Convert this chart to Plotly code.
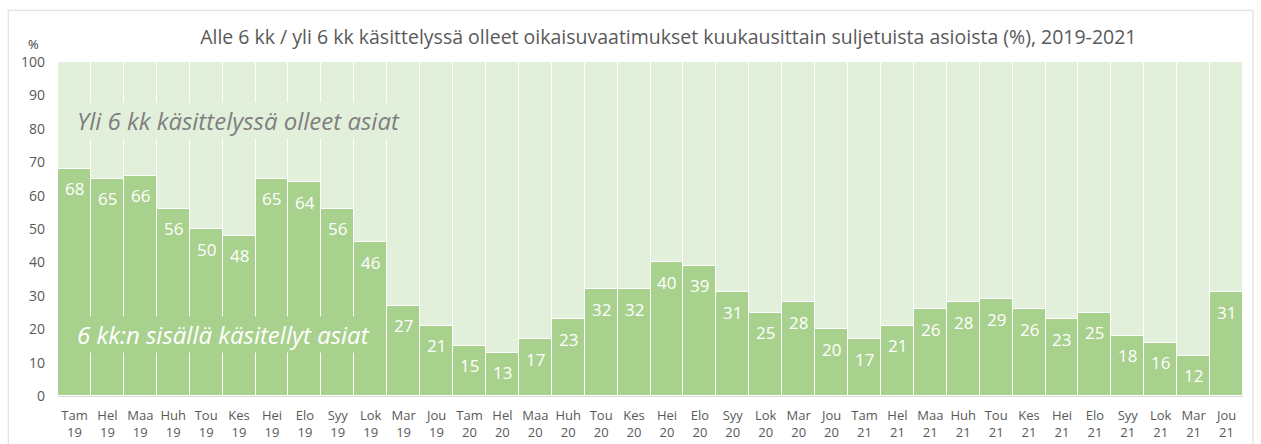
import plotly.graph_objects as go

months = ["Tam", "Hel", "Maa", "Huh", "Tou", "Kes", "Hei", "Elo", "Syy", "Lok", "Mar", "Jou"]
years = ["19", "20", "21"]
categories = [f"{m}<br>{y}" for y in years for m in months]
alle6 = [68, 65, 66, 56, 50, 48, 65, 64, 56, 46, 27, 21,
         15, 13, 17, 23, 32, 32, 40, 39, 31, 25, 28, 20,
         17, 21, 26, 28, 29, 26, 23, 25, 18, 16, 12, 31]
yli6 = [100 - v for v in alle6]

DARK = "#A9D18E"
LIGHT = "#E2EFDA"
GREY = "#595959"
FONT = "Open Sans"

fig = go.Figure()
fig.add_trace(go.Bar(
    x=categories, y=alle6, name="6 kk:n sisällä",
    marker=dict(color=DARK, line=dict(color="white", width=1.5)),
))
fig.add_trace(go.Bar(
    x=categories, y=yli6, name="Yli 6 kk",
    marker=dict(color=LIGHT, line=dict(color="white", width=1.5)),
))

for c, v in zip(categories, alle6):
    fig.add_annotation(x=c, y=v, text=str(v), showarrow=False, yanchor="middle",
                       yshift=-20, font=dict(color="white", size=17, family=FONT))

fig.update_layout(
    barmode="stack", bargap=0, showlegend=False,
    width=1261, height=444,
    margin=dict(l=58, r=18, t=62, b=48, autoexpand=False),
    paper_bgcolor="white", plot_bgcolor="white",
    font=dict(family=FONT, color=GREY, size=13),
    title=dict(text="Alle 6 kk / yli 6 kk käsittelyssä olleet oikaisuvaatimukset kuukausittain suljetuista asioista (%), 2019-2021",
               x=0.53, xanchor="center", y=0.917, yanchor="middle",
               font=dict(size=19.5, color=GREY, family=FONT)),
)
fig.update_yaxes(range=[0, 100], dtick=10, showgrid=False, zeroline=False, automargin=False,
                 ticks="", tickfont=dict(size=14, color=GREY), ticklabelstandoff=12)
fig.update_xaxes(showline=True, linecolor="#D9D9D9", linewidth=1, ticks="", automargin=False,
                 tickfont=dict(size=13, color=GREY), tickangle=0, ticklabelstandoff=7)

fig.add_annotation(text="%", xref="paper", yref="paper", x=-0.021, y=1.053,
                   xanchor="center", yanchor="middle",
                   showarrow=False, font=dict(size=13, color="#404040", family=FONT))
fig.add_annotation(text="<i>Yli 6 kk käsittelyssä olleet asiat</i>", xref="paper", yref="y",
                   x=0.152, y=82.6, xanchor="center", yanchor="middle", showarrow=False, bgcolor=LIGHT,
                   font=dict(size=24, color="#7F7F7F", family=FONT))
fig.add_annotation(text="<i>6 kk:n sisällä käsitellyt asiat</i>", xref="paper", yref="y",
                   x=0.140, y=18.3, xanchor="center", yanchor="middle", showarrow=False, bgcolor=DARK,
                   font=dict(size=24, color="white", family=FONT))
fig.add_shape(type="rect", xref="paper", yref="paper", x0=-0.042, x1=1.0085, y0=-0.3, y1=1.155,
              line=dict(color="#D9D9D9", width=1), layer="below")

fig.write_html("out.html", config={"displayModeBar": False},
               post_script="document.body.style.margin='0';document.body.style.overflow='hidden';")
